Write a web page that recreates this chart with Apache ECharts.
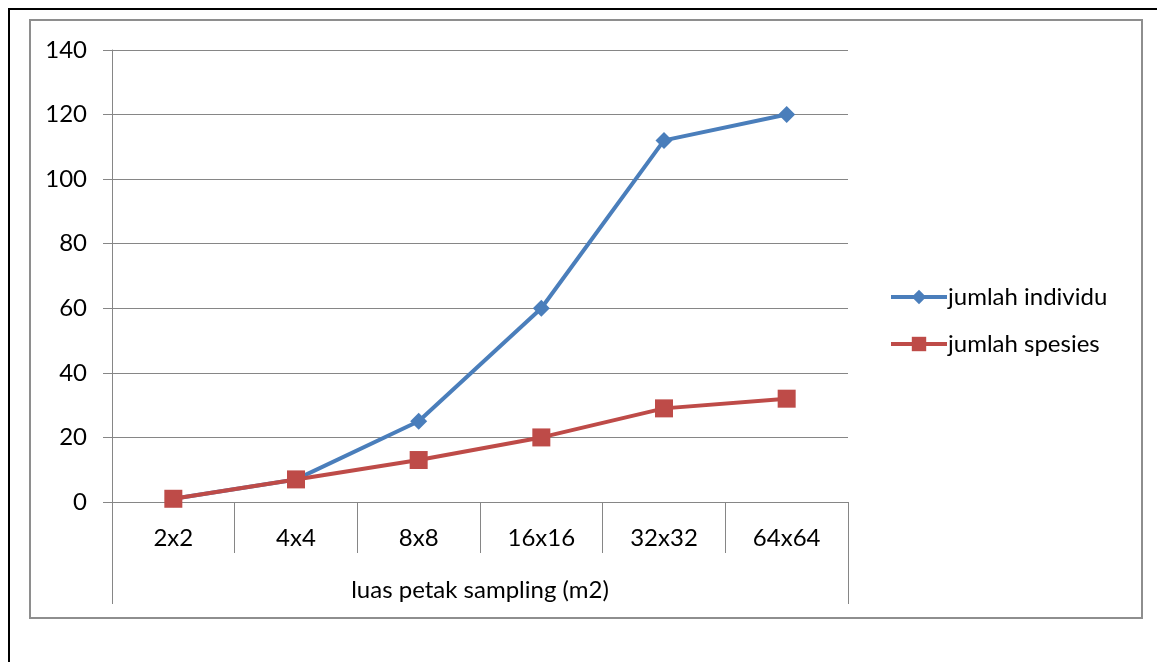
<!DOCTYPE html>
<html>
<head>
<meta charset="utf-8">
<script src="https://cdn.jsdelivr.net/npm/echarts@6/dist/echarts.min.js"></script>
<style>
html,body{margin:0;padding:0;background:#fff;}
#chart{width:1157px;height:662px;}
</style>
</head>
<body>
<div id="chart"></div>
<script>
const categories = ['2x2', '4x4', '8x8', '16x16', '32x32', '64x64'];
const jumlahIndividu = [1, 7, 25, 60, 112, 120];
const jumlahSpesies = [1, 7, 13, 20, 29, 32];
const axisTitle = 'luas petak sampling (m2)';
const seriesNames = ['jumlah individu', 'jumlah spesies'];

const FONT = 'Lato';
const FS = 24;
const GRAY = '#868686';
const BLUE = '#4A7EBB';
const RED = '#BE4B48';

const chart = echarts.init(document.getElementById('chart'), null, {renderer: 'canvas'});
chart.setOption({
  animation: false,
  backgroundColor: '#fff',
  textStyle: {fontFamily: FONT},
  graphic: [
    {type: 'rect', shape: {x: 9, y: 9, width: 1300, height: 800}, style: {fill: 'none', stroke: '#000', lineWidth: 2}, z: -10},
    {type: 'rect', shape: {x: 30, y: 20, width: 1112, height: 598}, style: {fill: 'none', stroke: '#8e8e8e', lineWidth: 2}, z: -10}
  ],
  grid: {left: 112, top: 50, right: 309, bottom: 160, containLabel: false},
  legend: {
    orient: 'vertical',
    left: 884,
    top: 280,
    itemWidth: 56,
    itemHeight: 18,
    itemGap: 23,
    textStyle: {fontFamily: FONT, fontSize: FS, color: '#000', padding: [0, 0, 0, -4]},
    data: [
      {name: seriesNames[0], lineStyle: {width: 4, color: BLUE}},
      {name: seriesNames[1], lineStyle: {width: 4, color: RED}}
    ]
  },
  xAxis: [
    {
      type: 'category',
      data: categories,
      boundaryGap: true,
      axisLine: {show: true, lineStyle: {color: GRAY, width: 1}},
      axisTick: {show: true, interval: 0, length: 51, lineStyle: {color: GRAY}},
      axisLabel: {interval: 0, margin: 24, color: '#000', fontFamily: FONT, fontSize: FS},
      splitLine: {show: false}
    },
    {
      type: 'category',
      position: 'bottom',
      data: [axisTitle],
      boundaryGap: true,
      axisLine: {show: false},
      axisTick: {show: true, length: 102, lineStyle: {color: GRAY}},
      axisLabel: {margin: 76, color: '#000', fontFamily: FONT, fontSize: FS},
      splitLine: {show: false}
    }
  ],
  yAxis: {
    type: 'value',
    min: 0, max: 140, interval: 20,
    axisLine: {show: true, lineStyle: {color: GRAY, width: 1}},
    axisTick: {show: true, length: 9, lineStyle: {color: GRAY}},
    axisLabel: {margin: 25, color: '#000', fontFamily: FONT, fontSize: FS},
    splitLine: {show: true, lineStyle: {color: GRAY, width: 1}}
  },
  series: [
    {
      name: seriesNames[0],
      type: 'line',
      xAxisIndex: 0,
      data: jumlahIndividu,
      symbol: 'diamond',
      symbolSize: 17,
      lineStyle: {color: BLUE, width: 4},
      itemStyle: {color: BLUE},
      z: 3
    },
    {
      name: seriesNames[1],
      type: 'line',
      xAxisIndex: 0,
      data: jumlahSpesies,
      symbol: 'rect',
      symbolSize: 18,
      lineStyle: {color: RED, width: 4},
      itemStyle: {color: RED},
      z: 4
    }
  ]
});
</script>
</body>
</html>
